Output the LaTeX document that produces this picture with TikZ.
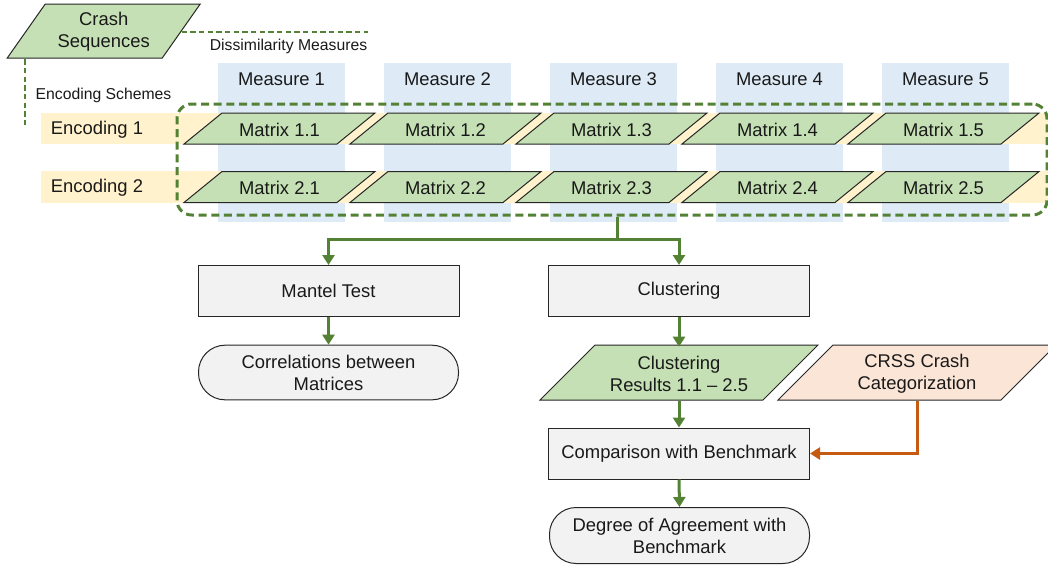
\documentclass[tikz,border=0pt]{standalone}
\usepackage{fontspec}
\setmainfont{Liberation Sans}
\usetikzlibrary{arrows.meta,calc}
\definecolor{gline}{HTML}{548235}
\definecolor{gfill}{HTML}{C5E0B4}
\definecolor{bfill}{HTML}{DEEBF7}
\definecolor{yfill}{HTML}{FFF2CC}
\definecolor{ofill}{HTML}{FBE5D6}
\definecolor{oline}{HTML}{C55A11}
\definecolor{grfill}{HTML}{F2F2F2}
\definecolor{edgec}{HTML}{262626}
\newcommand\parab[8]{%
 \draw[pline, fill=#7] ({#2-#4+#6},{#3-#5}) -- ({#2+#4+#6},{#3-#5}) -- ({#2+#4-#6},{#3+#5}) -- ({#2-#4-#6},{#3+#5}) -- cycle;
 \node[txt, minimum height={2*#5*0.75pt}, minimum width={2*#4*0.75pt}] (#1) at ({#2},{#3+1}) {#8};}
\begin{document}
\begin{tikzpicture}[x=0.75pt,y=-0.75pt,
 txt/.style={font=\fontsize{13.8}{16.5}\selectfont, text=black!90, align=center, inner sep=0pt},
 small/.style={font=\fontsize{11.8}{14}\selectfont, text=black!90, inner sep=0pt},
 pline/.style={draw=edgec, line width=0.75pt},
 boxnode/.style={txt, pline, fill=grfill, minimum width=195.75pt, minimum height=38.25pt},
 termnode/.style={txt, pline, fill=grfill, minimum width=195pt, minimum height=41pt, rounded corners=20pt},
 arr/.style={draw=gline, line width=2.25pt, -{Triangle[length=7.5pt,width=9pt]}},
 oarr/.style={draw=oline, line width=2.25pt, -{Triangle[length=7.5pt,width=9pt]}},
 gdash/.style={draw=gline, line width=1.1pt, dash pattern=on 4pt off 2.5pt}]
\useasboundingbox (0,0) rectangle (1048,565);
% measure columns
\foreach \i in {1,...,5}{
  \fill[bfill] ({281.5+166*(\i-1)-63.5},63) rectangle ({281.5+166*(\i-1)+63.5},222);
}
% encoding bands
\fill[yfill] (41,113) rectangle (1048,144);
\fill[yfill] (41,171) rectangle (1048,203);
% labels
\foreach \i in {1,...,5}{
  \node[txt] (m\i) at ({281.5+166*(\i-1)},79) {Measure \i};
}
\node[txt] (enc1) at (97,129.5) {Encoding 1};
\node[txt] (enc2) at (97,188) {Encoding 2};
\node[small] (dmlab) at (288.5,46) {Dissimilarity Measures};
\node[small] (eslab) at (103.5,95) {Encoding Schemes};
% crash sequences
\parab{crash}{103.75}{31}{77.5}{27}{19}{gfill}{Crash\\Sequences}
\coordinate (dmEnd) at (368,32);
\coordinate (esEnd) at (25,127);
\draw[gdash] (crash.east) -- (dmEnd);
\draw[gdash] (crash.south -| esEnd) -- (esEnd);
% matrices
\foreach \i in {1,...,5}{
  \parab{mA\i}{279.5+166*(\i-1)}{128.5}{76.5}{15.5}{19}{gfill}{Matrix 1.\i}
  \parab{mB\i}{279.5+166*(\i-1)}{187}{76.5}{15.5}{19}{gfill}{Matrix 2.\i}
}
% group box
\node[draw=gline, line width=2.25pt, dash pattern=on 6pt off 3.5pt, rounded corners=11pt,
      minimum width=652.5pt, minimum height=83.25pt, inner sep=0pt] (grp) at (612,159.5) {};
% lower flow
\node[boxnode] (mantel) at (328.5,291) {Mantel Test};
\node[termnode] (corr) at (328.5,372.5) {Correlations between\\Matrices};
\node[boxnode] (clus) at (679,291) {Clustering};
\parab{res}{679}{372.5}{111.5}{27.5}{27.5}{gfill}{Clustering\\Results 1.1 -- 2.5}
\parab{crss}{917}{372.5}{111.5}{27.5}{27.5}{ofill}{CRSS Crash\\Categorization}
\node[boxnode] (comp) at (679,453.5) {Comparison with Benchmark};
\node[termnode, minimum height=42pt] (deg) at (679.5,535.5) {Degree of Agreement with\\Benchmark};
\coordinate (split) at (617,239);
\draw[draw=gline, line width=2.25pt] (grp.south -| split) -- (split);
\draw[arr] (split) -| (mantel.north);
\draw[arr] (split) -| (clus.north);
\draw[arr] (mantel.south) -- (corr.north);
\draw[arr] (clus.south) -- ($(res.north)+(0,1)$);
\draw[arr] (res.south) -- (comp.north);
\draw[arr] (comp.south) -- (deg.north);
\draw[oarr] (crss.south) |- (comp.east);
\end{tikzpicture}
\end{document}
